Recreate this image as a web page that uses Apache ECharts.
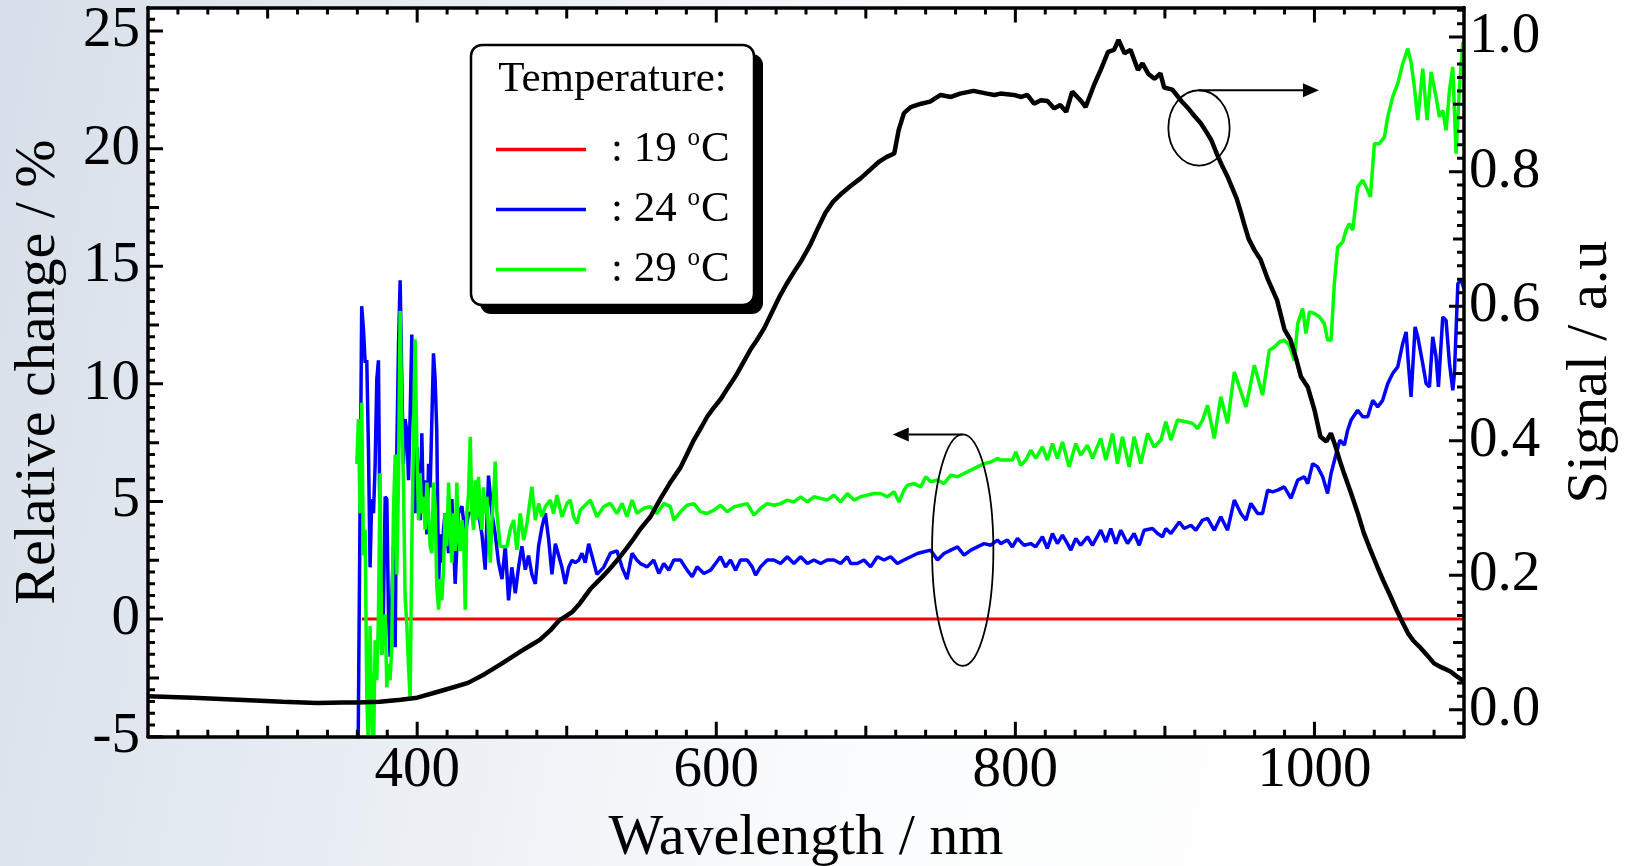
<!DOCTYPE html>
<html><head><meta charset="utf-8">
<script src="https://cdn.jsdelivr.net/npm/echarts@6/dist/echarts.min.js"></script>
<style>html,body{margin:0;padding:0;width:1628px;height:866px;overflow:hidden;background:#fff}#c{width:1628px;height:866px}</style>
</head><body><div id="c"></div>
<script>
// ---------- tick labels ----------
const xTickLabels = [400, 600, 800, 1000];
const yLeftTickLabels = [-5, 0, 5, 10, 15, 20, 25];
const yRightTickLabels = [0, 0.2, 0.4, 0.6, 0.8, 1.0];
const temperatures = ['19', '24', '29'];

// ---------- data: [wavelength nm, value] ----------
const red19 = [[363, 0], [1100, 0]];

const blue24 = [[360.5,-5.6],[362.9,13.3],[364.1,12.3],[365.2,10.9],[366.3,11.0],[367.4,7.3],[368.5,2.2],[369.6,5.1],[370.8,4.5],[371.9,6.6],[373.0,10.2],[374.1,11.0],[375.2,3.1],[376.3,-1.5],[377.4,0.2],[378.6,5.2],[379.7,5.1],[380.8,0.2],[381.9,-1.6],[384.1,3.1],[385.3,-1.2],[386.4,7.3],[387.5,11.6],[388.6,14.4],[389.7,10.2],[390.8,6.6],[391.9,8.5],[393.1,8.0],[394.2,5.9],[395.3,8.7],[396.4,12.1],[397.5,9.5],[398.6,4.5],[399.8,7.3],[402.0,4.2],[403.1,7.9],[404.2,4.5],[405.3,5.9],[406.5,3.6],[407.6,6.6],[408.7,5.6],[410.9,11.3],[412.0,10.2],[413.1,8.0],[414.3,1.4],[415.4,3.6],[416.5,2.4],[417.6,3.8],[418.7,4.5],[421.0,2.8],[423.2,5.1],[425.4,1.5],[427.6,4.5],[429.9,4.8],[432.1,3.6],[434.3,4.5],[436.6,4.5],[438.8,5.5],[441.0,4.5],[443.3,3.6],[445.5,2.1],[447.7,6.1],[450.0,4.5],[452.2,3.6],[454.4,2.4],[456.7,1.7],[458.9,3.1],[461.1,0.8],[463.3,2.2],[465.6,1.1],[467.8,2.2],[470.0,3.1],[472.3,2.1],[474.5,2.7],[476.7,1.9],[479.0,1.5],[481.2,3.1],[483.4,3.9],[485.7,4.5],[487.9,3.4],[490.1,1.9],[492.4,3.2],[494.6,2.7],[496.8,2.2],[499.0,1.5],[501.3,2.2],[503.5,2.5],[505.7,2.4],[508.0,2.5],[510.2,2.8],[512.4,2.4],[514.7,3.2],[520.2,1.9],[524.7,2.2],[529.2,2.8],[533.6,2.9],[537.0,2.2],[540.3,1.7],[543.7,2.8],[547.0,2.5],[549.3,2.36],[553.8,2.22],[558.2,2.51],[561.6,1.94],[564.9,2.36],[568.3,2.08],[571.6,2.51],[576.1,2.51],[580.5,2.08],[583.9,1.80],[587.2,2.22],[591.7,1.94],[596.2,2.08],[599.5,2.36],[602.8,2.65],[606.2,2.22],[609.5,2.51],[612.9,2.08],[616.2,2.51],[620.7,2.51],[624.0,2.22],[626.3,1.87],[629.6,2.22],[634.1,2.51],[638.5,2.51],[643.0,2.36],[647.5,2.65],[651.9,2.36],[656.4,2.65],[660.9,2.36],[665.3,2.51],[669.8,2.36],[674.2,2.51],[678.7,2.51],[683.2,2.36],[687.6,2.65],[689.9,2.36],[694.3,2.36],[698.8,2.51],[703.2,2.22],[707.7,2.65],[712.2,2.51],[716.6,2.65],[721.1,2.36],[725.5,2.51],[730.0,2.65],[734.5,2.79],[738.9,2.86],[743.4,2.93],[747.9,2.51],[752.3,2.79],[756.8,2.93],[761.3,3.07],[765.7,2.72],[770.2,2.93],[774.6,3.07],[779.1,3.21],[783.6,3.14],[788.0,3.36],[790.2,3.21],[794.7,3.36],[798.0,3.07],[801.4,3.43],[805.8,3.14],[810.3,3.21],[813.6,3.07],[818.1,3.50],[821.4,3.00],[824.8,3.64],[828.1,3.21],[831.5,3.57],[834.8,3.21],[837.1,2.93],[840.4,3.43],[843.7,3.14],[848.2,3.50],[851.6,3.14],[857.1,3.78],[860.5,3.28],[863.8,3.85],[867.2,3.21],[870.5,3.78],[875.0,3.21],[879.4,3.64],[882.8,3.14],[886.1,3.78],[891.7,3.85],[895.1,3.64],[898.4,3.50],[900.6,3.85],[904.0,3.64],[909.6,4.13],[912.9,3.85],[917.4,3.99],[920.7,3.78],[925.2,4.21],[928.5,4.28],[933.0,3.78],[937.4,4.35],[941.9,3.78],[946.4,5.06],[950.8,4.49],[954.2,4.21],[957.5,4.92],[962.0,4.49],[965.3,4.49],[968.7,5.48],[972.0,5.41],[975.4,5.48],[979.8,5.62],[984.3,5.13],[988.8,5.91],[993.2,6.05],[995.5,5.76],[998.8,6.61],[1002.1,6.47],[1005.5,6.05],[1008.8,5.34],[1011.1,6.19],[1014,6.9],[1017,7.6],[1020,7.4],[1022.2,8.03],[1024.5,8.46],[1028.9,8.88],[1032.3,8.60],[1035.6,8.60],[1039.0,9.30],[1042.3,9.02],[1045.6,9.30],[1049.0,10.01],[1052.3,10.44],[1055.7,10.72],[1059.0,11.71],[1061.3,12.21],[1062.8,10.86],[1064.6,9.45],[1067.3,12.42],[1069.1,12.00],[1072.4,10.86],[1074.7,10.01],[1076.9,9.87],[1079.1,12.00],[1081.3,11.15],[1082.9,9.87],[1085.8,12.85],[1088.0,12.70],[1090.3,10.86],[1092.5,9.73],[1093.6,10.44],[1095.9,14.26],[1098.1,14.41],[1100,14.05]];

const green29 = [[359.6,6.6],[360.7,8.5],[361.8,4.5],[362.9,9.2],[364.1,2.7],[365.2,3.8],[366.3,-3.3],[367.4,-5.6],[368.5,-0.3],[369.6,-4.0],[370.8,-5.6],[371.9,-0.9],[373.0,-2.6],[374.1,0.2],[375.2,6.2],[376.3,-1.5],[377.4,-0.5],[378.6,0.2],[379.7,-2.9],[380.8,-1.9],[381.9,-2.6],[383.0,-1.2],[384.1,4.5],[385.3,7.0],[386.4,1.9],[387.5,5.9],[388.6,13.1],[389.7,8.7],[390.8,5.9],[391.9,1.0],[393.1,-0.3],[394.2,-2.0],[395.3,-3.4],[396.4,3.1],[397.5,7.6],[398.6,11.9],[399.8,7.3],[400.9,4.2],[402.0,6.2],[403.1,4.5],[404.2,5.2],[405.3,3.8],[406.5,5.8],[407.6,4.5],[408.7,3.1],[409.8,2.8],[410.9,5.8],[412.0,4.8],[413.1,1.4],[414.3,0.4],[415.4,1.7],[416.5,0.8],[417.6,2.1],[418.7,4.5],[419.8,3.1],[421.0,5.8],[422.1,3.8],[423.2,2.4],[424.3,4.5],[425.4,2.9],[426.5,5.8],[427.6,3.4],[428.8,2.9],[429.9,4.2],[431.0,3.6],[432.1,0.4],[433.2,4.5],[434.3,5.3],[435.5,7.75],[436.6,4.5],[437.7,3.8],[438.8,5.9],[439.9,4.2],[441.0,6.05],[442.2,4.5],[443.3,3.8],[444.4,5.6],[445.5,4.5],[446.6,5.2],[447.7,3.6],[448.9,2.4],[450.0,4.2],[451.1,5.2],[452.2,6.7],[453.3,4.5],[454.4,3.8],[455.5,3.1],[460.0,3.08],[462.2,3.79],[464.5,4.21],[466.7,2.94],[468.9,4.49],[471.2,3.36],[473.4,4.07],[476.7,5.63],[479.0,4.21],[481.2,4.92],[483.4,4.35],[485.7,4.78],[489.0,5.06],[491.2,4.49],[493.5,5.27],[496.8,4.35],[500.2,4.92],[502.4,5.06],[504.6,4.35],[506.9,4.07],[509.1,4.64],[511.3,4.78],[515.8,5.06],[520.2,4.35],[524.7,4.78],[529.2,4.92],[533.6,4.49],[537.0,4.92],[540.3,4.35],[543.7,5.06],[547.0,4.49],[551.5,4.71],[556.0,4.78],[560.4,4.49],[564.9,4.92],[569.3,4.78],[571.6,4.21],[576.1,4.56],[580.5,4.84],[585.0,4.91],[589.5,4.56],[593.9,4.49],[598.4,4.63],[602.8,4.84],[607.3,4.56],[611.8,4.77],[616.2,4.84],[620.7,4.91],[625.2,4.42],[629.6,4.70],[634.1,4.91],[638.5,4.84],[643.0,4.91],[647.5,5.06],[651.9,4.98],[656.4,5.20],[660.9,4.98],[665.3,5.20],[669.8,5.13],[674.2,5.06],[678.7,5.27],[683.2,4.98],[687.6,5.34],[692.1,5.06],[696.6,5.20],[701.0,5.27],[705.5,5.34],[709.9,5.34],[714.4,5.20],[718.9,5.41],[722.2,4.98],[725.5,5.48],[727.8,5.69],[732.2,5.76],[736.7,5.62],[740.1,6.05],[743.4,5.84],[747.9,5.91],[752.3,5.76],[756.8,6.12],[761.3,6.05],[765.7,6.19],[770.2,6.33],[774.6,6.47],[779.1,6.61],[783.6,6.68],[788.0,6.83],[790.2,6.76],[794.7,6.76],[798.0,6.76],[800.3,7.11],[803.6,6.54],[807.0,6.76],[810.3,7.18],[813.6,6.83],[818.1,7.32],[821.4,6.76],[824.8,7.46],[828.1,6.83],[831.5,7.53],[835.9,6.47],[840.4,7.46],[843.7,6.97],[848.2,7.39],[851.6,6.83],[857.1,7.68],[860.5,6.76],[865.0,7.89],[868.3,6.61],[871.6,7.75],[876.1,6.47],[879.4,7.75],[883.9,6.61],[888.4,7.89],[892.8,7.32],[897.3,7.61],[900.6,8.39],[904.0,7.61],[908.4,8.46],[914.0,8.39],[918.5,8.32],[921.8,8.10],[925.2,8.46],[928.5,9.09],[933.0,7.68],[937.4,9.45],[941.9,8.32],[946.4,10.51],[949.7,9.87],[954.2,9.02],[959.8,10.79],[965.3,9.52],[969.8,11.43],[973.2,11.57],[976.5,11.78],[979.8,11.86],[983.2,11.64],[986.5,11.0],[988.8,12.56],[992.1,13.20],[994.3,12.14],[996.6,13.06],[999.9,12.99],[1003.3,12.85],[1006.6,12.56],[1008.8,11.86],[1011.1,11.86],[1013.3,14.26],[1015.5,15.82],[1018.9,16.03],[1021.1,16.53],[1023.3,16.81],[1025.6,16.53],[1028.9,18.37],[1032.3,18.66],[1035.6,18.23],[1037.4,17.95],[1040.1,20.21],[1043.4,20.21],[1046.8,20.50],[1049.0,21.35],[1052.3,22.20],[1055.7,22.76],[1059.0,23.61],[1062.4,24.25],[1064.6,23.68],[1066.8,22.62],[1069.1,21.21],[1072.4,23.40],[1075.3,21.21],[1078.0,23.26],[1081.3,22.20],[1083.6,21.35],[1085.8,21.63],[1088.0,20.78],[1090.3,22.48],[1092.5,23.47],[1094.7,19.79],[1097.0,22.62],[1099.2,24.53],[1100,23.05]];

const signal = [[220,0.020],[250,0.018],[280,0.015],[310,0.012],[333,0.010],[350,0.011],[360,0.011],[375,0.012],[389,0.015],[400,0.018],[411,0.025],[422,0.032],[434,0.040],[445,0.053],[456,0.068],[463,0.078],[470,0.088],[476,0.096],[482,0.104],[489,0.118],[495,0.133],[500,0.140],[504,0.146],[508,0.156],[511,0.165],[516,0.180],[520,0.189],[524,0.198],[529,0.210],[534,0.223],[540,0.240],[545,0.255],[549,0.268],[553,0.279],[556,0.287],[558,0.295],[563,0.315],[569,0.337],[576,0.360],[580,0.378],[585,0.401],[590,0.420],[594,0.436],[598,0.448],[603,0.462],[607,0.476],[610,0.486],[614,0.500],[617,0.512],[620,0.524],[623,0.536],[627,0.549],[632,0.567],[637,0.590],[642,0.613],[647,0.633],[652,0.651],[657,0.668],[663,0.692],[668,0.716],[673,0.739],[678,0.755],[684,0.768],[690,0.779],[696.5,0.790],[700,0.797],[705,0.807],[709,0.815],[714,0.822],[719,0.827],[722,0.862],[725.5,0.887],[730,0.896],[737,0.901],[743,0.904],[750,0.914],[757,0.911],[763,0.916],[772,0.920],[781,0.916],[786,0.914],[790,0.916],[799,0.914],[804,0.911],[808,0.914],[812.5,0.901],[817,0.906],[821.5,0.905],[826,0.894],[830,0.899],[834,0.889],[838,0.919],[844,0.905],[847,0.896],[853,0.931],[857,0.951],[862,0.978],[866,0.981],[869,0.996],[873,0.976],[877,0.981],[882,0.951],[885,0.961],[889,0.945],[893,0.938],[897,0.946],[899.5,0.925],[905,0.922],[911,0.905],[916,0.893],[920,0.882],[924,0.872],[928,0.858],[931,0.847],[935,0.825],[938,0.810],[942,0.792],[945,0.776],[948,0.760],[951,0.738],[953,0.722],[956,0.700],[960,0.683],[964,0.669],[969,0.639],[975,0.609],[980,0.565],[984,0.550],[988,0.520],[991,0.495],[995.5,0.480],[1000,0.446],[1004,0.406],[1008,0.399],[1011,0.411],[1014,0.392],[1017,0.370],[1020,0.350],[1024.5,0.322],[1029,0.292],[1033,0.263],[1037,0.240],[1042,0.213],[1046,0.192],[1051,0.168],[1055,0.148],[1058,0.134],[1062.5,0.114],[1066,0.103],[1071,0.092],[1075,0.082],[1080,0.069],[1085,0.063],[1091,0.057],[1095,0.050],[1100,0.042]];

// annotation anchors in data units: ellipse centre, half-axes, arrow tip x
const annoSignal = {cx: 922.8, cy: 0.865, rx: 20.5, ry: 0.056, tip: 1003};
const annoRelative = {cx: 764.8, cy: 2.93, rx: 20.5, ry: 4.92, tip: 718};

// ---------- helpers ----------
const FONT = '"Liberation Serif","Times New Roman",Times,serif';
function ticks(from, to, mult, keep) {
  const out = [];
  for (let k = from; k <= to; k++) if (keep(k)) out.push(Math.round(k * mult * 1000) / 1000);
  return out;
}
const xMedium = [300, 500, 700, 900];
const xMinor = ticks(12, 54, 20, k => k % 5 !== 0);
const yLeftMedium = ticks(-5, 45, 0.5, k => ((k % 10) + 10) % 10 === 5);
const yLeftMinor = ticks(-9, 51, 0.5, k => k % 5 !== 0);
const yRightMedium = ticks(1, 9, 0.1, k => k % 2 === 1);
const yRightMinor = ticks(-1, 52, 0.02, k => k % 5 !== 0).filter(v => v <= 1.04);

const AX = '#000';
const LABEL = {color: '#000', fontFamily: FONT, fontSize: 57};
const TITLE = {color: '#000', fontFamily: FONT, fontSize: 58};
const LINE = {show: true, onZero: false, lineStyle: {color: AX, width: 3.5}};
const NOTICK = {show: false};
const xr = {min: 220, max: 1100};
const yl = {min: -5, max: 26};
const yr = {min: -0.04, max: 1.044};
const GRID = {left: 148, right: 164, top: 7.5, bottom: 129.3};

const xAxes = [
  Object.assign({type: 'value', position: 'bottom', z: 10, axisLine: LINE, axisTick: NOTICK, splitLine: {show: false},
    axisLabel: Object.assign({show: true, customValues: xTickLabels, margin: 6, formatter: v => String(v)}, LABEL),
    name: 'Wavelength / nm', nameLocation: 'middle', nameGap: 73, nameTextStyle: TITLE}, xr),
  Object.assign({type: 'value', position: 'top', z: 10, axisLine: LINE, axisTick: NOTICK, splitLine: {show: false},
    axisLabel: {show: false}}, xr)
];
const yAxes = [
  Object.assign({type: 'value', position: 'left', z: 10, axisLine: LINE, axisTick: NOTICK, splitLine: {show: false},
    axisLabel: Object.assign({show: true, customValues: yLeftTickLabels, margin: 8, formatter: v => String(v)}, LABEL),
    name: 'Relative change / %', nameLocation: 'middle', nameRotate: 90, nameGap: 80, nameTextStyle: TITLE}, yl),
  Object.assign({type: 'value', position: 'right', z: 10, axisLine: LINE, axisTick: NOTICK, splitLine: {show: false},
    axisLabel: Object.assign({show: true, customValues: yRightTickLabels, margin: 5, formatter: v => Number(v).toFixed(1)}, LABEL),
    name: 'Signal / a.u', nameLocation: 'middle', nameRotate: 90, nameGap: 98, nameTextStyle: TITLE}, yr)
];

// ---------- tick marks drawn as short line segments in data space (gaps break the line) ----------
const plotW = 1628 - GRID.left - GRID.right, plotH = 866 - GRID.top - GRID.bottom;
const xPerPx = (xr.max - xr.min) / plotW;
const ylPerPx = (yl.max - yl.min) / plotH;
const yrPerPx = (yr.max - yr.min) / plotH;
const GAP = '-';
function segs(groups, make) {
  const out = [];
  groups.forEach(function (g) { g[0].forEach(function (v) { make(v, g[1]).forEach(p => out.push(p)); out.push(GAP); }); });
  return out;
}
const xGroups = [[xTickLabels, 15], [xMedium, 11], [xMinor, 7]];
const yLGroups = [[yLeftTickLabels, 15], [yLeftMedium, 11], [yLeftMinor, 7]];
const yRGroups = [[yRightTickLabels, 15], [yRightMedium, 11], [yRightMinor, 7]];
const xTickSegs = segs(xGroups, (v, len) => [[v, yl.min], [v, yl.min + len * ylPerPx]])
  .concat(segs(xGroups, (v, len) => [[v, yl.max], [v, yl.max - len * ylPerPx]]));
const yLeftTickSegs = segs(yLGroups, (v, len) => [[xr.min, v], [xr.min + len * xPerPx, v]]);
const yRightTickSegs = segs(yRGroups, (v, len) => [[xr.max, v], [xr.max - len * xPerPx, v]]);

function tickSeries(data, yIdx) {
  return {type: 'line', xAxisIndex: 0, yAxisIndex: yIdx, data: data, symbol: 'none', showSymbol: false,
    connectNulls: false, silent: true, clip: false, legendHoverLink: false, emphasis: {disabled: true},
    lineStyle: {color: AX, width: 3, cap: 'butt'}, itemStyle: {color: AX}, z: 8, animation: false};
}

const legendBox = {x: 471, y: 45, w: 283, h: 260};

const chart = echarts.init(document.getElementById('c'), null, {renderer: 'canvas'});
const option = {
  animation: false,
  backgroundColor: new echarts.graphic.LinearGradient(0, 0, 1, 0.35, [
    {offset: 0, color: '#d6dfe9'}, {offset: 0.3, color: '#e9eef4'}, {offset: 0.6, color: '#fbfcfd'}, {offset: 1, color: '#ffffff'}
  ]),
  grid: Object.assign({show: true, backgroundColor: '#fff', borderWidth: 0, containLabel: false, outerBoundsMode: 'none'}, GRID),
  xAxis: xAxes,
  yAxis: yAxes,
  legend: {
    left: legendBox.x, top: legendBox.y, orient: 'vertical', selectedMode: false, z: 20,
    data: temperatures.slice(),
    icon: 'rect', itemWidth: 90, itemHeight: 3.5, itemGap: 13,
    padding: [81, 27, 17, 25],
    formatter: n => ': ' + n + ' {s|o}C',
    textStyle: {color: '#000', fontFamily: FONT, fontSize: 43, lineHeight: 44, padding: [0, 0, 0, 20],
      rich: {s: {fontFamily: FONT, fontSize: 25, lineHeight: 20, padding: [0, 1, 22, 0]}}}
  },
  series: [
    {name: temperatures[0], type: 'line', xAxisIndex: 0, yAxisIndex: 0, data: red19, symbol: 'none', showSymbol: false,
      lineStyle: {color: '#ff0000', width: 3}, itemStyle: {color: '#ff0000'}, z: 2},
    {name: temperatures[1], type: 'line', xAxisIndex: 0, yAxisIndex: 0, data: blue24, symbol: 'none', showSymbol: false,
      lineStyle: {color: '#0000ff', width: 3.5}, itemStyle: {color: '#0000ff'}, z: 3},
    {name: temperatures[2], type: 'line', xAxisIndex: 0, yAxisIndex: 0, data: green29, symbol: 'none', showSymbol: false,
      lineStyle: {color: '#00ff00', width: 3.5}, itemStyle: {color: '#00ff00'}, z: 4},
    {name: 'Signal', type: 'line', xAxisIndex: 0, yAxisIndex: 1, data: signal, symbol: 'none', showSymbol: false,
      lineStyle: {color: '#000', width: 4.5}, itemStyle: {color: '#000'}, z: 5},
    tickSeries(xTickSegs, 0),
    tickSeries(yLeftTickSegs, 0),
    tickSeries(yRightTickSegs, 1)
  ]
};
chart.setOption(option);

const graphics = [];
function annotation(a, yIdx, dir) {
  const c = chart.convertToPixel({xAxisIndex: 0, yAxisIndex: yIdx}, [a.cx, a.cy]);
  const e = chart.convertToPixel({xAxisIndex: 0, yAxisIndex: yIdx}, [a.cx + a.rx, a.cy + a.ry]);
  const t = chart.convertToPixel({xAxisIndex: 0, yAxisIndex: yIdx}, [a.tip, a.cy]);
  const rx = Math.abs(e[0] - c[0]), ry = Math.abs(c[1] - e[1]);
  const topY = c[1] - ry;
  const tipX = t[0];
  const headLen = 16, headHalf = 7;
  const baseX = tipX - dir * headLen;
  return [
    {type: 'ellipse', shape: {cx: c[0], cy: c[1], rx: rx, ry: ry}, style: {fill: 'none', stroke: '#000', lineWidth: 1.8}, z: 50, silent: true},
    {type: 'line', shape: {x1: c[0], y1: topY, x2: baseX, y2: topY}, style: {stroke: '#000', lineWidth: 2}, z: 50, silent: true},
    {type: 'polygon', shape: {points: [[tipX, topY], [baseX, topY - headHalf], [baseX, topY + headHalf]]}, style: {fill: '#000'}, z: 50, silent: true}
  ];
}
annotation(annoSignal, 1, 1).concat(annotation(annoRelative, 0, -1)).forEach(function (g) { graphics.push(g); });
const B = legendBox;
graphics.push(
  {type: 'rect', shape: {x: B.x + 9, y: B.y + 9, width: B.w, height: B.h, r: 11}, style: {fill: '#000'}, z: 12, silent: true},
  {type: 'rect', shape: {x: B.x, y: B.y, width: B.w, height: B.h, r: 11}, style: {fill: '#fff', stroke: '#000', lineWidth: 2.5}, z: 13, silent: true},
  {type: 'text', x: B.x + B.w / 2, y: B.y + 35, z: 30, silent: true,
    style: {text: 'Temperature:', fill: '#000', font: '43px ' + FONT, textAlign: 'center', textVerticalAlign: 'middle'}}
);
chart.setOption({graphic: graphics});
</script></body></html>
